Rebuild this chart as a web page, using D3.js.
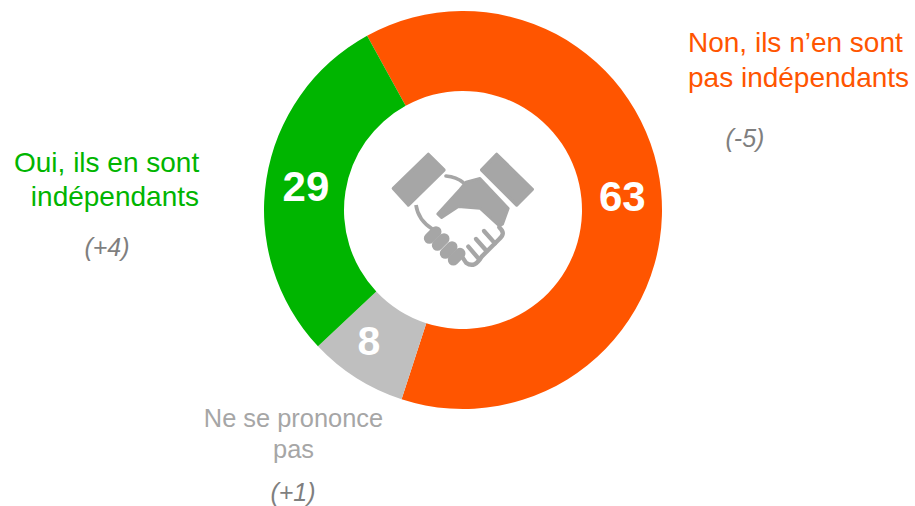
<!DOCTYPE html>
<html><head><meta charset="utf-8">
<script src="https://cdn.jsdelivr.net/npm/d3@7/dist/d3.min.js"></script>
<style>html,body{margin:0;background:#fff}svg{display:block}text{font-family:"Liberation Sans",Arial,sans-serif}</style>
</head><body><svg id="c" width="915" height="506"></svg>
<script>
const categories=["Non, ils n’en sont pas indépendants","Ne se prononce pas","Oui, ils en sont indépendants"];
const values=[63,8,29];
const colors=["#ff5500","#bfbfbf","#00b500"];
const svg=d3.select("#c");
const g=svg.append("g").attr("transform","translate(463,210)");
const pie=d3.pie().sort(null).startAngle(-0.503).endAngle(2*Math.PI-0.503);
const arc=d3.arc().innerRadius(119).outerRadius(199);
const arcs=pie(values);
g.selectAll("path").data(arcs).join("path").attr("d",arc).attr("fill",(d,i)=>colors[i]);
const nudge=[[1,1],[-9,-4],[0,1]];
g.selectAll("text").data(arcs).join("text").attr("transform",(d,i)=>{const c=arc.centroid(d);return `translate(${c[0]+nudge[i][0]},${c[1]+15+nudge[i][1]})`}).attr("text-anchor","middle").attr("fill","#fff").attr("font-weight","bold").attr("font-size",(d,i)=>i==1?41:42).text(d=>d.data);
const labels=[
 {t:["Non, ils n’en sont","pas indépendants"],x:688,y:[52,87],a:"start",c:colors[0],s:28},
 {t:["Oui, ils en sont"],x:14,y:[172],a:"start",c:colors[2],s:28},
 {t:["indépendants"],x:199,y:[206],a:"end",c:colors[2],s:28},
 {t:["Ne se prononce"],x:293.5,y:[427],a:"middle",c:"#a6a6a6",s:25.4},
 {t:["pas"],x:293.5,y:[458],a:"middle",c:"#a6a6a6",s:25.4}];
labels.forEach(l=>l.t.forEach((t,i)=>svg.append("text").attr("x",l.x).attr("y",l.y[i]).attr("text-anchor",l.a).attr("fill",l.c).attr("font-size",l.s).text(t)));
const deltas=["(-5)","(+4)","(+1)"],dx=[745,107,293],dy=[147,256,501];
deltas.forEach((t,i)=>svg.append("text").attr("x",dx[i]).attr("y",dy[i]).attr("text-anchor","middle").attr("fill","#7f7f7f").attr("font-style","italic").attr("font-size",25).text(t));
// handshake icon (coordinates in the 3x crop of the icon, origin 380,140)
const ic=svg.append("g").attr("transform","translate(380,140) scale(0.3333)");
const grey="#a6a6a6";
ic.append("path").attr("fill",grey).attr("stroke",grey).attr("stroke-width",10).attr("stroke-linejoin","round").attr("d","M145 43 L192 90 L85 195 L40 145Z");
ic.append("path").attr("fill",grey).attr("stroke",grey).attr("stroke-width",10).attr("stroke-linejoin","round").attr("d","M350 43 L305 90 L410 195 L457 148Z");
ic.append("path").attr("fill",grey).attr("stroke",grey).attr("stroke-width",8).attr("stroke-linejoin","round").attr("d","M173 222 L240 148 L258 126 L300 115 L385 205 L368 252 L358 258 L300 205 L235 200 L185 233Z");
ic.append("path").attr("fill","none").attr("stroke",grey).attr("stroke-width",11).attr("stroke-linecap","round").attr("d","M198 108 C220 110 238 118 250 128");
ic.append("path").attr("fill","none").attr("stroke",grey).attr("stroke-width",11).attr("d","M108 195 C112 225 130 250 158 268");
ic.append("path").attr("fill","none").attr("stroke",grey).attr("stroke-width",13).attr("stroke-linecap","round").attr("stroke-linejoin","round").attr("d","M358 262 C372 275 372 285 358 297 L305 350 C292 372 277 382 258 368 L246 350");
[[265,320,295,355],[288,297,320,333],[312,273,345,310]].forEach(f=>ic.append("line").attr("x1",f[0]).attr("y1",f[1]).attr("x2",f[2]).attr("y2",f[3]).attr("stroke",grey).attr("stroke-width",13).attr("stroke-linecap","round"));
[[158,285],[182,306],[206,330],[230,350]].forEach(c=>ic.append("line").attr("x1",c[0]+10).attr("y1",c[1]-10).attr("x2",c[0]-10).attr("y2",c[1]+10).attr("stroke",grey).attr("stroke-width",33).attr("stroke-linecap","round"));
</script></body></html>
